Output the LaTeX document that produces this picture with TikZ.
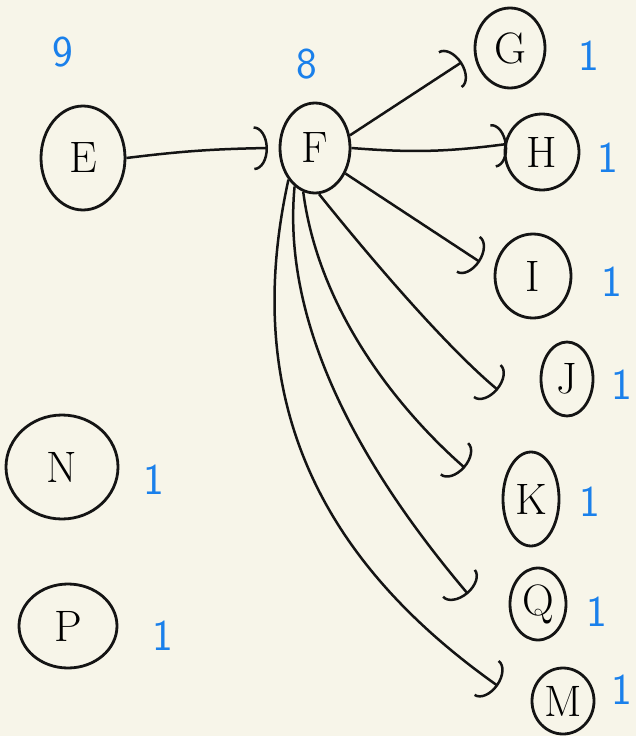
\documentclass[tikz,border=0pt]{standalone}
\usepackage{fontspec}
\usetikzlibrary{arrows.meta,shapes.geometric}
\definecolor{paper}{RGB}{247,245,233}
\definecolor{ink}{RGB}{20,20,20}
\definecolor{num}{RGB}{26,128,235}
\begin{document}
\begin{tikzpicture}[x=1pt,y=-1pt,
  vert/.style={draw=ink,line width=2.8pt,ellipse,inner sep=0pt,font=\fontsize{44}{48}\selectfont},
  cnt/.style={text=num,font=\sffamily\fontsize{44}{48}\selectfont},
  link/.style={draw=ink,line width=2.5pt,-{Arc Barb[length=14pt,width=44pt,line width=2.5pt]}}]
\fill[paper] (0,0) rectangle (636,736);
\useasboundingbox (0,0) rectangle (636,736);
% vertices
\node[vert,minimum width=84pt,minimum height=104pt] (E) at (83,158) {E};
\node[vert,minimum width=70pt,minimum height=90pt] (F) at (315,148) {F};
\node[vert,minimum width=70pt,minimum height=80pt] (G) at (510,48) {G};
\node[vert,minimum width=74pt,minimum height=76pt] (H) at (542,152) {H};
\node[vert,minimum width=76pt,minimum height=84pt] (I) at (533,276) {I};
\node[vert,minimum width=52pt,minimum height=74pt] (J) at (567,379) {J};
\node[vert,minimum width=56pt,minimum height=94pt] (K) at (531,499) {K};
\node[vert,minimum width=56pt,minimum height=72pt] (Q) at (538,604) {Q};
\node[vert,minimum width=62pt,minimum height=66pt] (M) at (563,701) {M};
\node[vert,minimum width=112pt,minimum height=104pt] (N) at (62,467) {N};
\node[vert,minimum width=98pt,minimum height=84pt] (P) at (68,626) {P};
% counts
\node[cnt] (cE) at (63,52) {9};
\node[cnt] (cF) at (307,64) {8};
\node[cnt] (cG) at (589,56) {1};
\node[cnt] (cH) at (608,158) {1};
\node[cnt] (cI) at (612,282) {1};
\node[cnt] (cJ) at (622,385) {1};
\node[cnt] (cK) at (590,502) {1};
\node[cnt] (cQ) at (597,612) {1};
\node[cnt] (cM) at (622,690) {1};
\node[cnt] (cN) at (154,480) {1};
\node[cnt] (cP) at (163,636) {1};
% connectors
\coordinate (eF) at (268,148);
\coordinate (eG) at (462,62);
\coordinate (eH) at (507,144);
\coordinate (eI) at (480,262);
\coordinate (eJ) at (498,390);
\coordinate (eK) at (465,468);
\coordinate (eQ) at (468,594);
\coordinate (eM) at (498,686);
\draw[link] (E.east) to[bend left=3] (eF);
\draw[link] (F.20) -- (eG);
\draw[link] (F.east) to[bend right=6] (eH);
\draw[link] (F.-40) -- (eI);
\draw[link] (F.-85) .. controls (380,270) and (450,350) .. (eJ);
\draw[link] (F.-105) .. controls (320,320) and (410,420) .. (eK);
\draw[link] (F.-118) .. controls (280,340) and (380,490) .. (eQ);
\draw[link] (F.-130) .. controls (240,400) and (320,560) .. (eM);
\end{tikzpicture}
\end{document}
